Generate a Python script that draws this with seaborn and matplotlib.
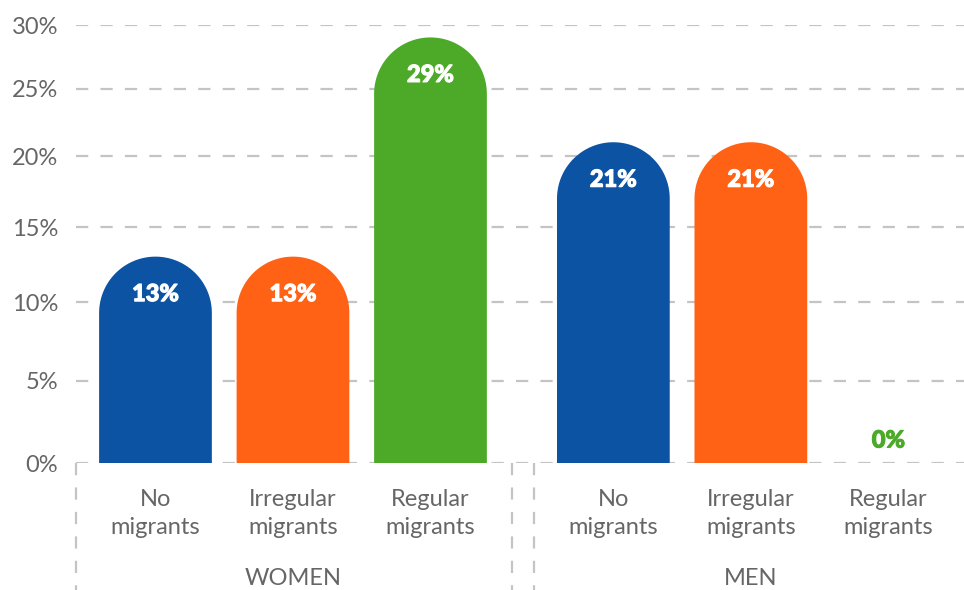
import numpy as np
import pandas as pd
import matplotlib
matplotlib.use("Agg")
import matplotlib.pyplot as plt
from matplotlib.path import Path
from matplotlib.patches import PathPatch
from matplotlib.transforms import blended_transform_factory, offset_copy
import matplotlib.patheffects as pe
import seaborn as sns

# ---- data -----------------------------------------------------------------
groups = ["WOMEN", "MEN"]
categories = ["No\nmigrants", "Irregular\nmigrants", "Regular\nmigrants"]
women_values = [13, 13, 29]
men_values = [21, 21, 0]
y_ticks = [0, 5, 10, 15, 20, 25, 30]

colors = ["#0C54A3", "#FF6214", "#4DAA29"]
grey_text = "#666666"
grid_grey = "#C4C4C4"

# ---- layout of the bars along x --------------------------------------------
group_offset = 3.33          # distance between first bars of each group
rows = []
for g, (gname, vals) in enumerate(zip(groups, [women_values, men_values])):
    for i, (cat, v) in enumerate(zip(categories, vals)):
        rows.append({"group": gname, "category": cat, "idx": i,
                     "pos": g * group_offset + i, "value": v})
df = pd.DataFrame(rows)

# ---- style ----------------------------------------------------------------
sns.set_theme(style="white")
plt.rcParams["font.family"] = ["Lato", "DejaVu Sans"]

fig = plt.figure(figsize=(9.64, 5.90), dpi=100)
W, H = 964, 590
ax = fig.add_axes([76 / W, (H - 463) / H, (W - 76) / W, (463 - 25) / H])

# value axis whose spacing tightens slightly toward the top
k = 0.00445


def fwd(v):
    v = np.asarray(v, dtype=float)
    return v - k * v ** 2


def inv(u):
    u = np.asarray(u, dtype=float)
    return (1 - np.sqrt(np.clip(1 - 4 * k * u, 0, None))) / (2 * k)


ax.set_yscale("function", functions=(fwd, inv))

sns.barplot(data=df, x="pos", y="value", hue="category",
            palette=dict(zip(categories, colors)), native_scale=True,
            dodge=False, width=0.82, legend=False, saturation=1,
            ax=ax, zorder=3)

ax.set_xlim(-0.578, 5.88)
ax.set_ylim(0, 30)

# ---- axes cosmetics ---------------------------------------------------------
for s in ax.spines.values():
    s.set_visible(False)
ax.set_xlabel("")
ax.set_ylabel("")
ax.set_yticks(y_ticks)
ax.set_yticklabels([f"{t}%" for t in y_ticks], color=grey_text, fontsize=17)
ax.tick_params(axis="y", length=0, pad=13)
ax.yaxis.grid(True, color=grid_grey, linewidth=1.6, linestyle=(0, (5.5, 5.5)))
ax.xaxis.grid(False)
ax.set_axisbelow(True)

ax.set_xticks(df["pos"])
ax.set_xticklabels(df["category"], color=grey_text, fontsize=17,
                   linespacing=1.42)
ax.tick_params(axis="x", length=0, pad=18.5)

# ---- bars with rounded tops ------------------------------------------------
fig.canvas.draw()
to_axes = ax.transAxes.inverted()
for patch in list(ax.patches):
    patch.set_visible(False)
    x0, w, h = patch.get_x(), patch.get_width(), patch.get_height()
    if h <= 0:
        continue
    (px0, py0), (px1, py1) = ax.transData.transform([(x0, 0), (x0 + w, h)])
    r = (px1 - px0) / 2
    cx = (px0 + px1) / 2
    theta = np.linspace(np.pi, 0, 60)
    arc = np.column_stack([cx + r * np.cos(theta), py1 - r + r * np.sin(theta)])
    pts = np.vstack([[px0, py0], [px0, py1 - r], arc, [px1, py1 - r],
                     [px1, py0], [px0, py0]])
    pts = to_axes.transform(pts)
    codes = [Path.MOVETO] + [Path.LINETO] * (len(pts) - 2) + [Path.CLOSEPOLY]
    ax.add_patch(PathPatch(Path(pts, codes), facecolor=patch.get_facecolor(),
                           edgecolor="none", transform=ax.transAxes,
                           zorder=3, clip_on=False))

# ---- value labels --------------------------------------------------------
for _, row in df.iterrows():
    v = row["value"]
    if v > 0:
        tr = offset_copy(ax.transData, fig=fig, y=-37, units="dots")
        col = "white"
    else:
        tr = offset_copy(ax.transData, fig=fig, y=23, units="dots")
        col = colors[row["idx"]]
    ax.text(row["pos"], v, f"{v}%", transform=tr, ha="center", va="center",
            color=col, fontsize=17, fontweight="black", zorder=5,
            path_effects=[pe.withStroke(linewidth=0.8, foreground=col)])

# ---- group labels and dashed group frames ----------------------------------
bt = blended_transform_factory(ax.transData, ax.transAxes)
frame_y = [0, -0.3]
for g, gname in enumerate(groups):
    first = g * group_offset
    last = first + len(categories) - 1
    ax.text((first + last) / 2, -0.2626, gname, transform=bt, ha="center",
            va="center", color=grey_text, fontsize=17)
    left = first - 0.578 if g == 0 else first - 0.576
    right = last + 0.596
    for xx in (left, right):
        ax.plot([xx, xx], frame_y, transform=bt, color=grid_grey, linewidth=1.6,
                linestyle=(0, (5.5, 5.5)), clip_on=False, zorder=1)

fig.savefig("out.png", dpi=100)
